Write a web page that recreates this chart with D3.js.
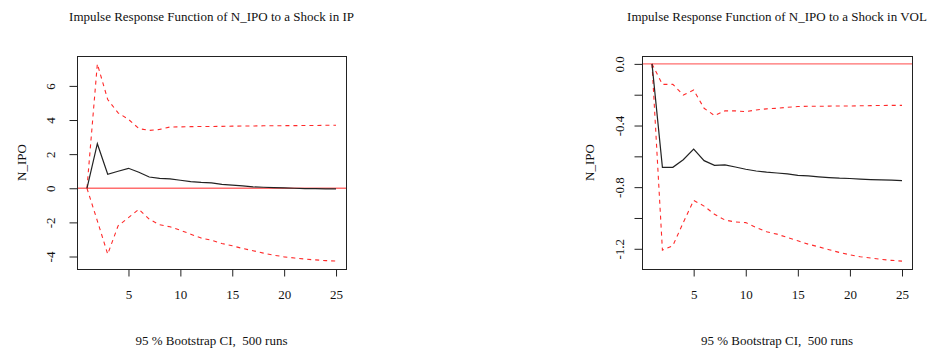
<!DOCTYPE html>
<html>
<head>
<meta charset="utf-8">
<script src="https://cdn.jsdelivr.net/npm/d3@7"></script>
<style>
  body { margin: 0; background: #fff; }
  svg { display: block; }
  text { font-family: "Liberation Serif", "Times New Roman", serif; font-size: 13px; fill: #111; }
</style>
</head>
<body>
<div id="chart"></div>
<script>
// horizon steps
const horizon = [1, 2, 3, 4, 5, 6, 7, 8, 9, 10, 11, 12, 13, 14, 15, 16, 17, 18, 19, 20, 21, 22, 23, 24, 25];
const xTicks = [5, 10, 15, 20, 25];

// response of N_IPO to IP
const ipIrf = [0, 2.61, 0.82, 1.0, 1.17, 0.94, 0.66, 0.58, 0.55, 0.47, 0.39, 0.34, 0.31, 0.23, 0.18, 0.14, 0.08, 0.06, 0.04, 0.02, 0.0, -0.02, -0.02, -0.04, -0.04];
const ipUpper = [0, 7.29, 5.2, 4.42, 4.04, 3.5, 3.39, 3.45, 3.59, 3.6, 3.61, 3.62, 3.62, 3.63, 3.64, 3.65, 3.65, 3.66, 3.66, 3.67, 3.67, 3.68, 3.68, 3.69, 3.69];
const ipLower = [0, -1.91, -3.86, -2.2, -1.72, -1.23, -1.81, -2.14, -2.26, -2.46, -2.69, -2.92, -3.04, -3.24, -3.37, -3.53, -3.66, -3.8, -3.92, -4.02, -4.09, -4.15, -4.2, -4.24, -4.27];
const ipTicks = [-4, -2, 0, 2, 4, 6];
const ipLabels = ["-4", "-2", "0", "2", "4", "6"];

// response of N_IPO to VOL
const volIrf = [0, -0.671, -0.671, -0.622, -0.553, -0.628, -0.658, -0.656, -0.669, -0.684, -0.695, -0.703, -0.708, -0.714, -0.723, -0.727, -0.733, -0.738, -0.742, -0.744, -0.748, -0.751, -0.753, -0.755, -0.757];
const volUpper = [0, -0.133, -0.133, -0.202, -0.17, -0.288, -0.335, -0.305, -0.305, -0.31, -0.299, -0.292, -0.288, -0.282, -0.277, -0.275, -0.275, -0.274, -0.273, -0.273, -0.272, -0.271, -0.27, -0.269, -0.269];
const volLower = [0, -1.209, -1.18, -1.03, -0.886, -0.923, -0.976, -1.013, -1.026, -1.03, -1.062, -1.09, -1.105, -1.127, -1.148, -1.17, -1.187, -1.206, -1.224, -1.239, -1.252, -1.26, -1.269, -1.275, -1.28];
const volTicks = [-1.2, -1.0, -0.8, -0.6, -0.4, -0.2, 0.0];
const volLabels = ["-1.2", "", "-0.8", "", "-0.4", "", "0.0"];

const panels = [
  { title: "Impulse Response Function of N_IPO to a Shock in IP", irf: ipIrf, upper: ipUpper, lower: ipLower,
    ticks: ipTicks, labels: ipLabels, left: 77, right: 346, tickLabelX: 54.5, ylabX: 26 },
  { title: "Impulse Response Function of N_IPO to a Shock in VOL", irf: volIrf, upper: volUpper, lower: volLower,
    ticks: volTicks, labels: volLabels, left: 642, right: 912, tickLabelX: 623.5, ylabX: 593.5 }
];

const W = 934, H = 355, plotTop = 56, plotBottom = 269;

const svg = d3.select("#chart").append("svg")
    .attr("width", W)
    .attr("height", H);

panels.forEach(p => {
  // R style 4% padding on both axes
  const xr = d3.extent(horizon), xpad = (xr[1] - xr[0]) * 0.04;
  const x = d3.scaleLinear().domain([xr[0] - xpad, xr[1] + xpad]).range([p.left, p.right]);
  const yr = d3.extent([].concat(p.irf, p.upper, p.lower)), ypad = (yr[1] - yr[0]) * 0.04;
  const y = d3.scaleLinear().domain([yr[0] - ypad, yr[1] + ypad]).range([plotBottom, plotTop]);

  const g = svg.append("g");
  const line = d3.line().x((d, i) => x(horizon[i])).y(d => y(d));

  // zero line
  g.append("line")
    .attr("x1", p.left).attr("x2", p.right)
    .attr("y1", y(0)).attr("y2", y(0))
    .attr("stroke", "#ff5555").attr("stroke-width", 1.4).attr("opacity", 0.85);

  [p.upper, p.lower].forEach(band => {
    g.append("path")
      .datum(band)
      .attr("fill", "none")
      .attr("stroke", "#ff2a2a")
      .attr("stroke-width", 1.1)
      .attr("stroke-dasharray", "4,4")
      .attr("d", line);
  });

  g.append("path")
    .datum(p.irf)
    .attr("fill", "none")
    .attr("stroke", "#222")
    .attr("stroke-width", 1.2)
    .attr("d", line);

  // box
  g.append("rect")
    .attr("x", p.left + 0.5).attr("y", plotTop + 0.5)
    .attr("width", p.right - p.left).attr("height", plotBottom - plotTop)
    .attr("fill", "none").attr("stroke", "#222").attr("stroke-width", 1);

  // x axis
  const xa = g.append("g").attr("transform", `translate(0,${plotBottom + 0.5})`)
    .call(d3.axisBottom(x).tickValues(xTicks).tickSize(7).tickPadding(10).tickFormat(d3.format("d")));
  xa.select(".domain").attr("d", `M${x(xTicks[0])},0H${x(xTicks[xTicks.length - 1])}`).attr("stroke", "#222");
  xa.selectAll(".tick line").attr("stroke", "#222");
  xa.selectAll("text").attr("y", 29.5).attr("dy", null)
    .style("font-family", "Liberation Serif").style("font-size", "13px").attr("fill", "#111");

  // y axis
  const ya = g.append("g").attr("transform", `translate(${p.left + 0.5},0)`)
    .call(d3.axisLeft(y).tickValues(p.ticks).tickSize(8).tickFormat((d, i) => p.labels[i]));
  ya.select(".domain").attr("d", `M0,${y(p.ticks[0])}V${y(p.ticks[p.ticks.length - 1])}`).attr("stroke", "#222");
  ya.selectAll(".tick line").attr("stroke", "#222");
  ya.selectAll(".tick text")
    .attr("x", null).attr("dy", null)
    .attr("text-anchor", "middle")
    .attr("transform", `translate(${p.tickLabelX - p.left - 0.5},0) rotate(-90)`)
    .style("font-family", "Liberation Serif").style("font-size", "13px").attr("fill", "#111");

  const cx = (p.left + p.right) / 2;
  g.append("text")
    .attr("x", cx).attr("y", 21)
    .attr("text-anchor", "middle")
    .text(p.title);

  g.append("text")
    .attr("x", cx).attr("y", 345)
    .attr("text-anchor", "middle")
    .style("white-space", "pre")
    .text("95 % Bootstrap CI,  500 runs");

  g.append("text")
    .attr("transform", `translate(${p.ylabX},${(plotTop + plotBottom) / 2}) rotate(-90)`)
    .attr("text-anchor", "middle")
    .text("N_IPO");
});
</script>
</body>
</html>
